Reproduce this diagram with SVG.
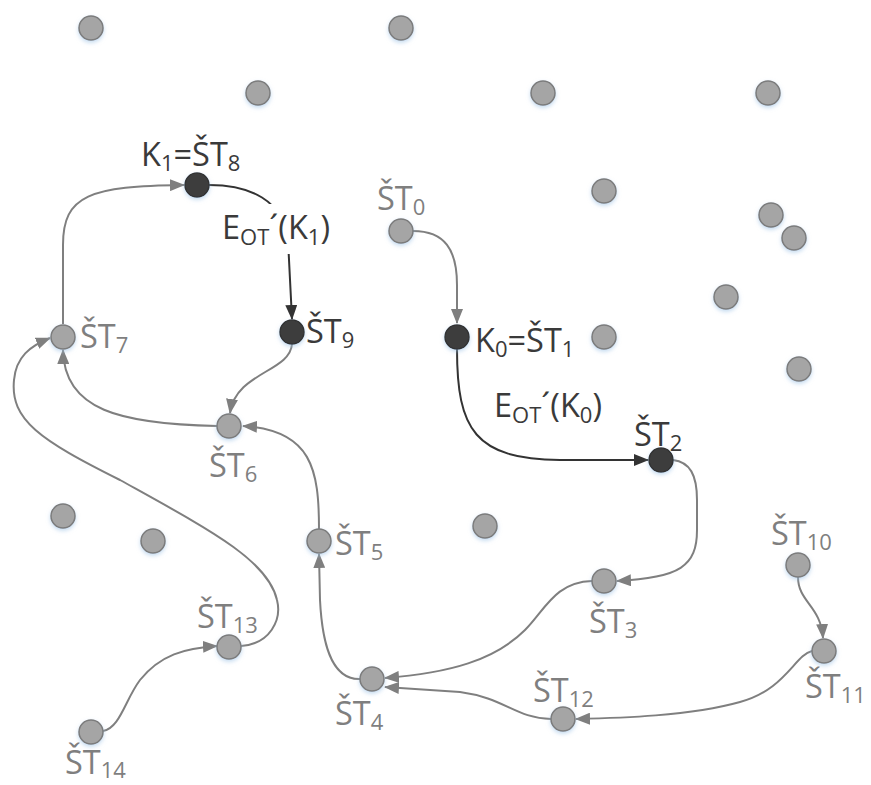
<svg xmlns="http://www.w3.org/2000/svg" width="871" height="785" viewBox="0 0 871 785">
<style>
.n{fill:#a5a5a5;stroke:#7b7b7b;stroke-width:1.5;filter:url(#sh)}
.d{fill:#3d3d3d;stroke:#333;stroke-width:1.5;filter:url(#sh)}
.cg{fill:none;stroke:#7f7f7f;stroke-width:2;marker-end:url(#ag)}
.cd{fill:none;stroke:#333;stroke-width:2;marker-end:url(#ad)}
text{font-family:"Open Sans","Noto Sans","Liberation Sans",sans-serif;font-size:32.5px}
.g{fill:#7f7f7f}
.k{fill:#3a3a3a}
.s{font-size:22px}
</style>
<defs>
<filter id="sh" x="-50%" y="-50%" width="200%" height="220%">
<feDropShadow dx="0" dy="2" stdDeviation="2" flood-color="#9dc3e6" flood-opacity="0.6"/>
</filter>
<marker id="ag" markerWidth="15" markerHeight="12" refX="14" refY="6" orient="auto" markerUnits="userSpaceOnUse"><path d="M0,0 L15,6 L0,12 z" fill="#7f7f7f"/></marker>
<marker id="ad" markerWidth="15" markerHeight="12" refX="14" refY="6" orient="auto" markerUnits="userSpaceOnUse"><path d="M0,0 L15,6 L0,12 z" fill="#333"/></marker>
</defs>
<rect width="871" height="785" fill="#fff"/>

<g id="background-points">
<circle class="n" cx="91" cy="28" r="12"/>
<circle class="n" cx="401" cy="28" r="12"/>
<circle class="n" cx="258" cy="93" r="12"/>
<circle class="n" cx="543" cy="93" r="12"/>
<circle class="n" cx="768" cy="93" r="12"/>
<circle class="n" cx="604" cy="191" r="12"/>
<circle class="n" cx="771" cy="215" r="12"/>
<circle class="n" cx="794" cy="238" r="12"/>
<circle class="n" cx="726" cy="297" r="12"/>
<circle class="n" cx="604" cy="337" r="12"/>
<circle class="n" cx="799" cy="369" r="12"/>
<circle class="n" cx="63" cy="516" r="12"/>
<circle class="n" cx="153" cy="541" r="12"/>
<circle class="n" cx="485" cy="526" r="12"/>
</g>

<g id="connectors">
<path class="cg" d="M413,231 C445,231 457,250 457,285 L457,323"/>
<path class="cd" d="M457,349 C457,430 475,459 560,460 L648,460"/>
<path class="cg" d="M673,460 C690,462 697,475 697,500 L697,530 C697,566 680,578 617,581"/>
<path class="cg" d="M592,581 C555,582 545,610 525,630 C495,660 450,673 385,678"/>
<path class="cg" d="M551,719 C515,718 505,698 460,692 L385,687"/>
<path class="cg" d="M812,651 C795,655 785,690 740,702 C690,716 620,718 576,719"/>
<path class="cg" d="M798,577 C798,602 821,606 823,638"/>
<path class="cg" d="M360,679 C330,680 322,640 320,600 L319,554"/>
<path class="cg" d="M319,529 C319,470 312,430 243,426"/>
<path class="cg" d="M292,344 C290,372 236,372 230,413"/>
<path class="cg" d="M217,426 C120,424 64,410 63,350"/>
<path class="cg" d="M63,324 L63,245 C63,195 90,186 184,185"/>
<path class="cd" d="M209,185 C250,185 283,200 288,240 L292,319"/>
<path class="cg" d="M241,646 C270,644 282,620 277,600 C268,560 210,530 120,480 C40,440 10,420 14,380 C16,357 30,346 50,338"/>
<path class="cg" d="M103,731 C120,728 125,700 140,680 C160,655 185,648 217,646"/>
</g>

<g id="edge-label-K1">
<rect x="216" y="204" width="134" height="50" fill="#fff"/>
<text x="222" y="239" class="k">E<tspan class="s" dy="6">OT</tspan><tspan dy="-6">´(K</tspan><tspan class="s" dy="6">1</tspan><tspan dy="-6">)</tspan></text>
</g>
<g id="edge-label-K0">
<text x="494" y="417" class="k">E<tspan class="s" dy="6">OT</tspan><tspan dy="-6">´(K</tspan><tspan class="s" dy="6">0</tspan><tspan dy="-6">)</tspan></text>
</g>

<g id="ST0"><circle class="n" cx="401" cy="231" r="12"/><text x="377" y="210" class="g">ŠT<tspan class="s" dy="5">0</tspan></text></g>
<g id="ST1"><circle class="d" cx="457" cy="337" r="12"/><text x="475" y="352" class="k">K<tspan class="s" dy="5">0</tspan><tspan dy="-5">=ŠT</tspan><tspan class="s" dy="5">1</tspan></text></g>
<g id="ST2"><circle class="d" cx="661" cy="460" r="12"/><text x="634" y="446" class="k">ŠT<tspan class="s" dy="5">2</tspan></text></g>
<g id="ST3"><circle class="n" cx="604" cy="581" r="12"/><text x="589" y="633" class="g">ŠT<tspan class="s" dy="5">3</tspan></text></g>
<g id="ST4"><circle class="n" cx="372" cy="679" r="12"/><text x="335" y="725" class="g">ŠT<tspan class="s" dy="5">4</tspan></text></g>
<g id="ST5"><circle class="n" cx="319" cy="541" r="12"/><text x="335" y="555" class="g">ŠT<tspan class="s" dy="5">5</tspan></text></g>
<g id="ST6"><circle class="n" cx="229" cy="426" r="12"/><text x="209" y="477" class="g">ŠT<tspan class="s" dy="5">6</tspan></text></g>
<g id="ST7"><circle class="n" cx="63" cy="337" r="12"/><text x="80" y="348" class="g">ŠT<tspan class="s" dy="5">7</tspan></text></g>
<g id="ST8"><circle class="d" cx="197" cy="185" r="12"/><text x="141" y="166" class="k">K<tspan class="s" dy="5">1</tspan><tspan dy="-5">=ŠT</tspan><tspan class="s" dy="5">8</tspan></text></g>
<g id="ST9"><circle class="d" cx="292" cy="332" r="12"/><text x="306" y="343" class="k">ŠT<tspan class="s" dy="5">9</tspan></text></g>
<g id="ST10"><circle class="n" cx="798" cy="565" r="12"/><text x="771" y="545" class="g">ŠT<tspan class="s" dy="5">10</tspan></text></g>
<g id="ST11"><circle class="n" cx="824" cy="651" r="12"/><text x="805" y="698" class="g">ŠT<tspan class="s" dy="5">11</tspan></text></g>
<g id="ST12"><circle class="n" cx="563" cy="719" r="12"/><text x="533" y="702" class="g">ŠT<tspan class="s" dy="5">12</tspan></text></g>
<g id="ST13"><circle class="n" cx="229" cy="647" r="12"/><text x="197" y="628" class="g">ŠT<tspan class="s" dy="5">13</tspan></text></g>
<g id="ST14"><circle class="n" cx="91" cy="732" r="12"/><text x="65" y="774" class="g">ŠT<tspan class="s" dy="4">14</tspan></text></g>
</svg>
